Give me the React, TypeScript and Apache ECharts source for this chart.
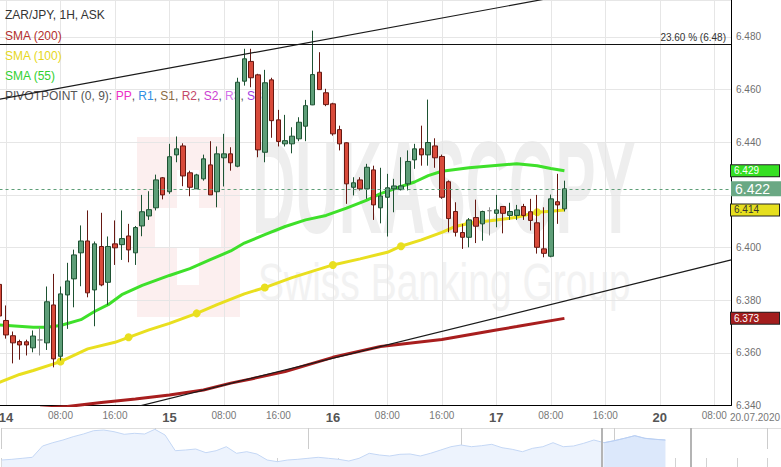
import React, { useEffect, useRef } from 'react';
import * as echarts from 'echarts';

// ---------- data ----------
const instrumentTitle = 'ZAR/JPY, 1H, ASK';
const dayLabels = ['14', '15', '16', '17', '20'];
const hourLabels: Record<number, string> = { 8: '08:00', 16: '16:00' };
const lastDateLabel = '20.07.2020';

// hour index of first candle (0 = 14 Jul 00:00, weekend removed)
const firstHour = -1;
// [open, close, low, high]
const ohlc: number[][] = [
  [6.3860, 6.3740, 6.3730, 6.3875],
  [6.3723, 6.3668, 6.3654, 6.3780],
  [6.3665, 6.3638, 6.3560, 6.3681],
  [6.3643, 6.3630, 6.3574, 6.3650],
  [6.3642, 6.3630, 6.3590, 6.3650],
  [6.3619, 6.3664, 6.3602, 6.3685],
  [6.3649, 6.3649, 6.3590, 6.3697],
  [6.3638, 6.3794, 6.3611, 6.3852],
  [6.3782, 6.3577, 6.3545, 6.3900],
  [6.3587, 6.3824, 6.3571, 6.3852],
  [6.3820, 6.3873, 6.3691, 6.3942],
  [6.3881, 6.3972, 6.3773, 6.3992],
  [6.3980, 6.4025, 6.3853, 6.4084],
  [6.4025, 6.3828, 6.3811, 6.4141],
  [6.3839, 6.4014, 6.3701, 6.4023],
  [6.4004, 6.3858, 6.3853, 6.4132],
  [6.3868, 6.4004, 6.3782, 6.4042],
  [6.4014, 6.3999, 6.3934, 6.4103],
  [6.4011, 6.4034, 6.3953, 6.4141],
  [6.4044, 6.3991, 6.3944, 6.4090],
  [6.3980, 6.4076, 6.3934, 6.4082],
  [6.4082, 6.4136, 6.4043, 6.4200],
  [6.4120, 6.4144, 6.4105, 6.4214],
  [6.4151, 6.4257, 6.4141, 6.4277],
  [6.4265, 6.4200, 6.4183, 6.4268],
  [6.4212, 6.4345, 6.4204, 6.4394],
  [6.4352, 6.4375, 6.4324, 6.4422],
  [6.4386, 6.4272, 6.4233, 6.4396],
  [6.4284, 6.4229, 6.4195, 6.4292],
  [6.4223, 6.4276, 6.4223, 6.4280],
  [6.4261, 6.4337, 6.4254, 6.4353],
  [6.4314, 6.4200, 6.4200, 6.4404],
  [6.4212, 6.4356, 6.4153, 6.4384],
  [6.4341, 6.4356, 6.4232, 6.4432],
  [6.4356, 6.4322, 6.4292, 6.4381],
  [6.4309, 6.4628, 6.4305, 6.4645],
  [6.4632, 6.4717, 6.4615, 6.4755],
  [6.4707, 6.4645, 6.4609, 6.4755],
  [6.4656, 6.4371, 6.4343, 6.4660],
  [6.4362, 6.4626, 6.4324, 6.4675],
  [6.4637, 6.4482, 6.4417, 6.4645],
  [6.4485, 6.4403, 6.4384, 6.4523],
  [6.4394, 6.4406, 6.4384, 6.4504],
  [6.4394, 6.4423, 6.4358, 6.4457],
  [6.4413, 6.4476, 6.4404, 6.4495],
  [6.4461, 6.4539, 6.4404, 6.4561],
  [6.4542, 6.4657, 6.4541, 6.4824],
  [6.4666, 6.4600, 6.4600, 6.4742],
  [6.4588, 6.4543, 6.4537, 6.4603],
  [6.4546, 6.4432, 6.4425, 6.4550],
  [6.4448, 6.4394, 6.4369, 6.4463],
  [6.4398, 6.4242, 6.4166, 6.4400],
  [6.4229, 6.4246, 6.4198, 6.4267],
  [6.4257, 6.4223, 6.4217, 6.4267],
  [6.4223, 6.4305, 6.4185, 6.4318],
  [6.4295, 6.4162, 6.4105, 6.4311],
  [6.4151, 6.4196, 6.4092, 6.4303],
  [6.4191, 6.4227, 6.4042, 6.4280],
  [6.4223, 6.4234, 6.4134, 6.4261],
  [6.4220, 6.4234, 6.4217, 6.4343],
  [6.4242, 6.4327, 6.4217, 6.4369],
  [6.4333, 6.4375, 6.4299, 6.4394],
  [6.4375, 6.4352, 6.4311, 6.4463],
  [6.4352, 6.4399, 6.4311, 6.4562],
  [6.4386, 6.4341, 6.4303, 6.4415],
  [6.4346, 6.4191, 6.4185, 6.4353],
  [6.4250, 6.4110, 6.4058, 6.4255],
  [6.4137, 6.4058, 6.4042, 6.4172],
  [6.4057, 6.4039, 6.3995, 6.4090],
  [6.4039, 6.4105, 6.4001, 6.4112],
  [6.4114, 6.4081, 6.4017, 6.4182],
  [6.4090, 6.4137, 6.4026, 6.4140],
  [6.4140, 6.4140, 6.4046, 6.4153],
  [6.4130, 6.4143, 6.4077, 6.4200],
  [6.4156, 6.4130, 6.4054, 6.4156],
  [6.4122, 6.4137, 6.4105, 6.4170],
  [6.4122, 6.4143, 6.4105, 6.4162],
  [6.4156, 6.4122, 6.4105, 6.4166],
  [6.4136, 6.4103, 6.4065, 6.4185],
  [6.4094, 6.4001, 6.3977, 6.4200],
  [6.3995, 6.3978, 6.3963, 6.4153],
  [6.3967, 6.4185, 6.3963, 6.4201],
  [6.4174, 6.4162, 6.4090, 6.4280],
  [6.4147, 6.4223, 6.4137, 6.4254],
];

// [hour index, value]
const sma55: number[][] = [
  [-1, 6.3706], [4, 6.3697], [6, 6.3697], [8, 6.3704], [11, 6.3726], [13, 6.3757],
  [15, 6.3783], [17, 6.3821], [20, 6.3856], [22, 6.3875], [24, 6.3894], [27, 6.3920],
  [30, 6.3954], [33, 6.3987], [35, 6.4017], [38, 6.4049], [41, 6.4080], [44, 6.4105],
  [47, 6.4122], [50, 6.4150], [53, 6.4180], [55, 6.4205], [58, 6.4232], [60, 6.4249],
  [62, 6.4273], [64, 6.4290], [68, 6.4303], [71, 6.4310], [75, 6.4318], [78, 6.4311],
  [80, 6.4300], [82, 6.4292],
];
const sma100: number[][] = [
  [-1, 6.3488], [2, 6.3518], [4, 6.3533], [7, 6.3558], [8, 6.3567], [12, 6.3615],
  [16, 6.3640], [18, 6.3659], [21, 6.3687], [24, 6.3712], [28, 6.3750], [31, 6.3783],
  [35, 6.3824], [38, 6.3848], [42, 6.3886], [48, 6.3934], [52, 6.3957], [56, 6.3982],
  [58, 6.4005], [61, 6.4029], [64, 6.4058], [66, 6.4080], [68, 6.4092], [72, 6.4105],
  [75, 6.4115], [78, 6.4134], [80, 6.4138], [82, 6.4143],
];
const sma200: number[][] = [
  [5, 6.3390], [9, 6.3396], [14, 6.3411], [19, 6.3425], [24, 6.3440], [29, 6.3459],
  [33, 6.3485], [36, 6.3501], [41, 6.3529], [48, 6.3583], [55, 6.3624], [64, 6.3651],
  [72, 6.3687], [75, 6.3700], [82, 6.3731],
];
const sma100MarkerEvery = 10;
const sma100MarkerOffset = 8;

const upperTrend: number[][] = [[-1, 6.4563], [80, 6.4948]];
const lowerTrend: number[][] = [[0, 6.3273], [106.5, 6.3953]];
const fibPercent = 23.6;
const fibLevel = 6.4771;

// navigator overview (value in px above navigator floor), one point per 1/3 day
const navValues = [
  7, 7.7, 8.7, 9.7, 21, 24.3, 27, 30.3, 33, 36.3,
  37, 35.3, 32.7, 33.7, 33, 37.7, 32, 16.3, 17, 18,
  14.3, 16.3, 20.3, 13.7, 15.3, 13, 7, 5.3, 7, 7.7,
  8.7, 9.7, 8.7, 7.7, 6, 8.7, 13.7, 12, 11, 12.7,
  13, 11, 13.7, 17, 20.3, 22, 20.3, 21.3, 22.7, 19.3,
  17.7, 15.3, 18.7, 20.3, 24.3, 20.3, 21, 23.7, 27, 24.3,
  26.3, 28.7, 31.3, 28.7, 27.7, 27,
];
const navWindow = [19.6, 22.5];

// ---------- layout ----------
const W = 781, H = 467;
const HOUR_PX = 6.81;
const ZERO_X = 6;
const AXIS_X = 731;
const PLOT_H = 405.5;
const Y_MIN = 6.34, Y_STEP = 0.02, STEP_PX = 52.65;
const Y_MAX = Y_MIN + (PLOT_H / STEP_PX) * Y_STEP;
const X_MIN = -8;
const X_MAX = (AXIS_X - ZERO_X) / HOUR_PX;
const NAV_DAY_PX = 30.63;
const NAV_LEFT = 1.7;
const FONT = '"Liberation Sans", Arial, sans-serif';

const C55 = '#3ee02a', C100 = '#e9df1f', C200 = '#a81e1e';

function tag(value: number, bg: string, fg: string) {
  return {
    symbol: ['none', 'none'],
    silent: true,
    animation: false,
    precision: 4,
    lineStyle: { width: 0, color: 'rgba(0,0,0,0)', opacity: 1 },
    label: {
      show: true, position: 'end', distance: 0, opacity: 1,
      formatter: value.toFixed(3),
      backgroundColor: bg, color: fg, borderColor: '#222', borderWidth: 1,
      fontSize: 10, lineHeight: 10, padding: [1, 3, 0, 3], width: 42, fontFamily: FONT,
    },
    data: [{ yAxis: value }],
  };
}

export default function App() {
  const ref = useRef<HTMLDivElement>(null);
  useEffect(() => {
    if (!ref.current) return;
    const chart = echarts.init(ref.current, undefined, { renderer: 'svg' });
    const candleData = ohlc.map((r, k) => [firstHour + k, r[0], r[1], r[2], r[3]]);
    const lastClose = ohlc[ohlc.length - 1][1];
    const navData = navValues.map((v, k) => [k / 3, v]);
    const navSel = navData.filter((d) => d[0] >= navWindow[0]);

    const lineSeries = (data: number[][], color: string, extra: any = {}) => ({
      type: 'line', xAxisIndex: 0, yAxisIndex: 0, data, z: 2,
      symbol: 'none', showSymbol: false, clip: true,
      lineStyle: { color, width: 3 }, itemStyle: { color },
      ...extra,
    });

    chart.setOption({
      animation: false,
      backgroundColor: '#fff',
      grid: [
        { left: ZERO_X + X_MIN * HOUR_PX, right: W - AXIS_X, top: 0, height: PLOT_H, containLabel: false, outerBoundsMode: 'none' },
        { left: NAV_LEFT, right: 0, top: 428, height: 39, containLabel: false, outerBoundsMode: 'none' },
      ],
      xAxis: [
        {
          type: 'value', gridIndex: 0, min: X_MIN, max: X_MAX, interval: 8,
          axisLine: { show: true, onZero: false, lineStyle: { color: '#000', width: 1 } },
          axisTick: { show: false },
          splitLine: { show: true, lineStyle: { color: '#e6e6e6', width: 1 } },
          axisLabel: {
            margin: 5,
            formatter: (v: number) => {
              if (v < 0 || Math.abs(v % 8) > 1e-6) return '';
              const h = Math.round(v) % 24;
              if (h === 0) return '{d|' + (dayLabels[Math.round(v) / 24] ?? '') + '}';
              return '{h|' + hourLabels[h] + '}';
            },
            rich: {
              d: { fontSize: 13, fontWeight: 'bold', color: '#555', fontFamily: FONT },
              h: { fontSize: 10, color: '#777', fontFamily: FONT },
            },
          },
        },
        {
          type: 'value', gridIndex: 1, min: 0, max: (W - NAV_LEFT) / NAV_DAY_PX, interval: 1,
          axisLine: { show: false, onZero: false }, axisLabel: { show: false }, splitLine: { show: false },
          axisTick: { show: true, inside: true, length: 9, lineStyle: { color: '#d2d2d2', width: 1 } },
        },
        {
          type: 'value', gridIndex: 1, min: 0, max: (W - NAV_LEFT) / NAV_DAY_PX, interval: 5,
          axisLine: { show: false, onZero: false }, axisLabel: { show: false }, splitLine: { show: false },
          axisTick: { show: true, inside: true, length: 21, lineStyle: { color: '#cccccc', width: 1 } },
        },
        {
          type: 'value', gridIndex: 1, position: 'top', min: 0, max: (W - NAV_LEFT) / NAV_DAY_PX,
          axisLine: { show: true, onZero: false, lineStyle: { color: '#dedede', width: 1 } },
          axisTick: { show: false }, axisLabel: { show: false }, splitLine: { show: false },
        },
      ],
      yAxis: [
        {
          type: 'value', gridIndex: 0, position: 'right', min: Y_MIN, max: Y_MAX, interval: Y_STEP,
          axisLine: { show: true, onZero: false, lineStyle: { color: '#000', width: 1 } },
          axisTick: { show: false },
          splitLine: { show: true, lineStyle: { color: '#e6e6e6', width: 1 } },
          axisLabel: {
            showMaxLabel: false, margin: 5, fontSize: 10, color: '#6f6f6f', fontFamily: FONT,
            // the current-price tag covers the tick label next to it
            formatter: (v: number) => (Math.abs(v - lastClose) < 0.004 ? '' : v.toFixed(3)),
          },
        },
        { type: 'value', gridIndex: 1, min: 0, max: 39, show: false },
      ],
      series: [
        {
          type: 'line', xAxisIndex: 1, yAxisIndex: 1, data: navData, symbol: 'none', silent: true,
          lineStyle: { color: '#c4d7f5', width: 1 }, areaStyle: { color: '#edf3fd', opacity: 1 },
          markLine: {
            symbol: ['none', 'none'], silent: true, label: { show: false }, precision: 4,
            lineStyle: { color: '#b4b4b4', width: 2, type: 'solid' },
            data: navWindow.map((x) => ({ xAxis: x })),
          },
        },
        {
          type: 'line', xAxisIndex: 1, yAxisIndex: 1, data: navSel, symbol: 'none', silent: true,
          lineStyle: { color: '#b9cff3', width: 1 }, areaStyle: { color: '#dce8fb', opacity: 1 },
        },
        lineSeries(sma200, C200, { markLine: tag(sma200[sma200.length - 1][1], '#a31d1d', '#fff') }),
        lineSeries(sma100, C100, {
          symbol: 'circle', showSymbol: true,
          symbolSize: (v: number[]) => (v[0] % sma100MarkerEvery === sma100MarkerOffset ? 8 : 0),
          markLine: tag(sma100[sma100.length - 1][1], '#e6df1e', '#333'),
        }),
        lineSeries(sma55, C55, { markLine: tag(sma55[sma55.length - 1][1], '#35df22', '#fff') }),
        lineSeries(upperTrend, '#1a1a1a', { lineStyle: { color: '#1a1a1a', width: 1.2 }, z: 4 }),
        lineSeries(lowerTrend, '#1a1a1a', { lineStyle: { color: '#1a1a1a', width: 1.2 }, z: 4 }),
        {
          type: 'candlestick', xAxisIndex: 0, yAxisIndex: 0, z: 3, barWidth: 5,
          data: candleData, encode: { x: 0, y: [1, 2, 3, 4] },
          itemStyle: {
            color: '#5e9e78', color0: '#d84a3a',
            borderColor: '#1d5232', borderColor0: '#661812',
            borderColorDoji: '#8a8a8a', borderWidth: 1,
          },
          markLine: {
            symbol: ['none', 'none'], silent: true, animation: false, precision: 4,
            data: [
              {
                yAxis: lastClose,
                lineStyle: { color: '#5e9f78', type: [3, 3], width: 1 },
                label: {
                  show: true, position: 'end', distance: 0, formatter: lastClose.toFixed(3),
                  backgroundColor: '#6aa884', color: '#fff', fontSize: 14, lineHeight: 15,
                  padding: [0, 4], width: 42, fontFamily: FONT,
                },
              },
              {
                yAxis: fibLevel,
                lineStyle: { color: '#111', type: 'solid', width: 1 },
                label: {
                  show: true, position: 'insideEndTop', distance: [5, 2],
                  formatter: `${fibPercent.toFixed(2)} % (${fibLevel.toFixed(2)})`,
                  color: '#333', fontSize: 10, fontFamily: FONT,
                },
              },
            ],
          },
        },
      ],
      graphic: [
        { type: 'rect', z: -5, silent: true, shape: { x: 137, y: 137, width: 103, height: 180 }, style: { fill: '#fcefef' } },
        { type: 'rect', z: -5, silent: true, shape: { x: 177, y: 170, width: 22, height: 115 }, style: { fill: '#fff' } },
        { type: 'rect', z: -5, silent: true, shape: { x: 155, y: 208, width: 66, height: 39 }, style: { fill: '#fff' } },
        {
          type: 'text', z: -5, silent: true, x: 252, y: 187, scaleX: 0.455,
          style: { text: 'DUKASCOPY', font: `bold 132px ${FONT}`, fill: '#eeeeee', textAlign: 'left', align: 'left', textVerticalAlign: 'middle', verticalAlign: 'middle' },
        },
        {
          type: 'text', z: -5, silent: true, x: 258, y: 282, scaleX: 0.75,
          style: { text: 'Swiss Banking Group', font: `52px ${FONT}`, fill: '#f2f2f2', textAlign: 'left', align: 'left', textVerticalAlign: 'middle', verticalAlign: 'middle' },
        },
        {
          type: 'text', z: 1, silent: true, x: 5, y: 15,
          style: { text: instrumentTitle, font: `12px ${FONT}`, fill: '#333', textVerticalAlign: 'middle', verticalAlign: 'middle' },
        },
        {
          type: 'text', z: 1, silent: true, x: 5, y: 36,
          style: { text: 'SMA (200)', font: `12px ${FONT}`, fill: '#b3302c', textVerticalAlign: 'middle', verticalAlign: 'middle' },
        },
        {
          type: 'text', z: 1, silent: true, x: 5, y: 56,
          style: { text: 'SMA (100)', font: `12px ${FONT}`, fill: '#e6d81c', textVerticalAlign: 'middle', verticalAlign: 'middle' },
        },
        {
          type: 'text', z: 1, silent: true, x: 5, y: 76,
          style: { text: 'SMA (55)', font: `12px ${FONT}`, fill: '#33d030', textVerticalAlign: 'middle', verticalAlign: 'middle' },
        },
        {
          type: 'text', z: 1, silent: true, x: 5, y: 96,
          style: {
            text: '{g|PIVOTPOINT (0, 9): }{pp|PP}{g|, }{r1|R1}{g|, }{s1|S1}{g|, }{r2|R2}{g|, }{s2|S2}{g|, }{r3|R3}{g|, }{s3|S3}',
            font: `12px ${FONT}`, textVerticalAlign: 'middle', verticalAlign: 'middle',
            rich: {
              g: { fill: '#555', color: '#555', fontSize: 12, fontFamily: FONT },
              pp: { fill: '#ec2fc6', color: '#ec2fc6', fontSize: 12, fontFamily: FONT },
              r1: { fill: '#2f8fe4', color: '#2f8fe4', fontSize: 12, fontFamily: FONT },
              s1: { fill: '#8b6c44', color: '#8b6c44', fontSize: 12, fontFamily: FONT },
              r2: { fill: '#c4486a', color: '#c4486a', fontSize: 12, fontFamily: FONT },
              s2: { fill: '#cc3fd2', color: '#cc3fd2', fontSize: 12, fontFamily: FONT },
              r3: { fill: '#d472ea', color: '#d472ea', fontSize: 12, fontFamily: FONT },
              s3: { fill: '#a23ee2', color: '#a23ee2', fontSize: 12, fontFamily: FONT },
            },
          },
        },
        {
          type: 'text', z: 1, silent: true, x: 755, y: 417,
          style: { text: lastDateLabel, font: `10px ${FONT}`, fill: '#777', textAlign: 'center', align: 'center', textVerticalAlign: 'middle', verticalAlign: 'middle' },
        },
      ],
    });
    return () => chart.dispose();
  }, []);
  return <div ref={ref} style={{ position: 'fixed', left: 0, top: 0, width: W, height: H }} />;
}
